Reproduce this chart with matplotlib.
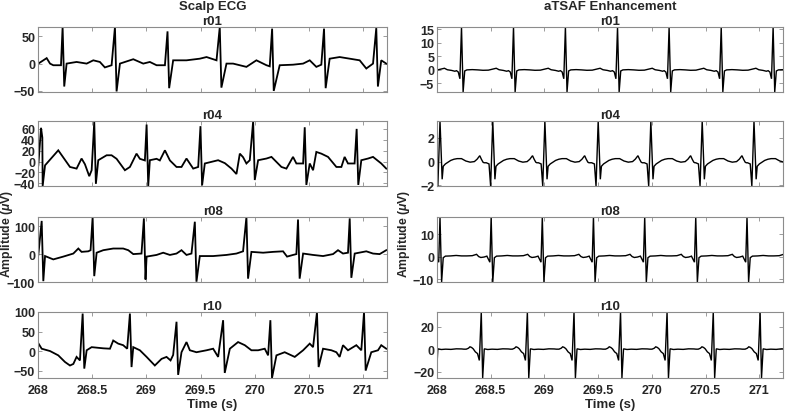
import numpy as np
import matplotlib
matplotlib.use("Agg")
import matplotlib.pyplot as plt

# ---------------- DATA ----------------
xticks = [268, 268.5, 269, 269.5, 270, 270.5, 271]
xtick_labels = ["268", "268.5", "269", "269.5", "270", "270.5", "271"]
col_titles = ["Scalp ECG", "aTSAF Enhancement"]
rec_names = ["r01", "r04", "r08", "r10"]

# ---- Scalp ECG: R-peak times / amplitudes, S amplitudes, baseline knots ----
scalp_r01_beat_t = [268.227, 268.710, 269.195, 269.677, 270.160, 270.639, 271.121]
scalp_r01_R = [67, 67, 59, 67, 64, 64, 65]
scalp_r01_S = [-42, -51, -45, -44, -50, -45, -42]
scalp_r01_knot_t = [268.003, 268.080, 268.111, 268.141, 268.212, 268.264, 268.356, 268.449,
                    268.510, 268.571, 268.617, 268.679, 268.756, 268.879, 268.971, 269.032,
                    269.094, 269.171, 269.247, 269.370, 269.493, 269.555, 269.647, 269.739,
                    269.800, 269.923, 270.015, 270.108, 270.138, 270.230, 270.353, 270.446,
                    270.507, 270.568, 270.614, 270.691, 270.783, 270.876, 270.968, 271.029,
                    271.091, 271.167, 271.213]
scalp_r01_knot_v = [0, 10, 0, -3, -3, 0, 3, 0,
                    6, 3, -7, -3, 0, 8, 0, 3,
                    -3, -3, 6, 6, 9, 12, 6, 0,
                    0, -6, 6, -3, -5, -3, -2, 0,
                    6, -6, -2, 9, 12, 9, 6, -9,
                    0, 6, 0]

scalp_r04_beat_t = [268.028, 268.519, 269.002, 269.499, 269.985, 270.461, 270.940]
scalp_r04_R = [62, 73, 68, 65, 74, 63, 60]
scalp_r04_S = [-45, -41, -45, -44, -34, -43, -43]
scalp_r04_knot_t = [268.003, 268.040, 268.065, 268.187, 268.295, 268.356, 268.402, 268.433,
                    268.473, 268.495, 268.556, 268.633, 268.679, 268.725, 268.802, 268.848,
                    268.909, 268.940, 268.986, 269.032, 269.094, 269.124, 269.171, 269.217,
                    269.278, 269.324, 269.370, 269.432, 269.478, 269.539, 269.662, 269.724,
                    269.785, 269.831, 269.862, 269.892, 269.923, 269.954, 270.031, 270.108,
                    270.154, 270.246, 270.292, 270.353, 270.384, 270.446, 270.507, 270.538,
                    270.568, 270.614, 270.676, 270.753, 270.799, 270.829, 270.860, 270.921,
                    270.983, 271.045, 271.091, 271.167, 271.213]
scalp_r04_knot_v = [-7, 44, -7, 20.6, -10, -13, 5.5, -5,
                    -27, -16, 2.4, 11.5, 11.5, 5, -16, -10,
                    14.5, 5, 2, 2.4, 5, 2, 20.6, 2,
                    -10, -10, 5.5, -13, -10, -3.6, 2.4, -3,
                    -13, -23, 14.5, 8, -3.6, 2.4, 2.4, 5.5,
                    8.5, -10, -13, 8.5, -3.6, -3.6, -3.6, -16,
                    17.6, 14.5, 8.5, -10, -10, 8.5, -3.6, -3.6,
                    2.4, 5.5, 8.5, -3.6, -13]

scalp_r08_beat_t = [268.034, 268.504, 268.977, 269.447, 269.923, 270.399, 270.876]
scalp_r08_R = [119, 133, 128, 116, 133, 124, 128]
scalp_r08_S = [-97, -79, -91, -99, -88, -88, -85]
scalp_r08_knot_t = [268.003, 268.065, 268.141, 268.233, 268.326, 268.372, 268.402, 268.464,
                    268.485, 268.541, 268.602, 268.694, 268.786, 268.833, 268.879, 268.955,
                    269.002, 269.094, 269.155, 269.217, 269.278, 269.324, 269.370, 269.416,
                    269.493, 269.616, 269.739, 269.831, 269.892, 269.969, 270.077, 270.169,
                    270.261, 270.298, 270.353, 270.384, 270.446, 270.538, 270.630, 270.722,
                    270.768, 270.814, 270.860, 270.922, 271.029, 271.091, 271.152, 271.213]
scalp_r08_knot_v = [-3, -7, -19, -9, 2, 20, 8, 10,
                    14, 5, 14, 20, 20, 14, 0, 2,
                    -9, -3, 5, -3, 2, 14, -3, 2,
                    -7, -7, -3, 2, 10, 8, 5, 8,
                    10, -9, -3, 0, 2, -3, -7, 0,
                    14, 2, 5, 2, 10, 2, 0, 14]

scalp_r10_beat_t = [268.412, 268.848, 269.278, 269.708, 270.144, 270.574, 271.008]
scalp_r10_R = [96, 96, 75, 79, 79, 100, 100]
scalp_r10_S = [-45, -41, -61, -56, -69, -41, -50]
scalp_r10_knot_t = [268.003, 268.034, 268.111, 268.187, 268.249, 268.295, 268.326, 268.356,
                    268.387, 268.449, 268.495, 268.602, 268.664, 268.694, 268.740, 268.786,
                    268.823, 268.879, 268.940, 269.002, 269.078, 269.140, 269.186, 269.223,
                    269.247, 269.324, 269.370, 269.401, 269.462, 269.555, 269.616, 269.662,
                    269.770, 269.846, 269.908, 269.969, 270.031, 270.092, 270.123, 270.200,
                    270.276, 270.369, 270.446, 270.507, 270.538, 270.630, 270.707, 270.753,
                    270.783, 270.814, 270.860, 270.937, 270.983, 271.075, 271.137, 271.167,
                    271.213]
scalp_r10_knot_v = [20, 6, 0, -11, -28, -37, -33, -15,
                    -24, 2, 10, 7, 6, 27, 19, 15,
                    6, 10, 2, -15, -37, -20, -15, -24,
                    -10, -3, 23, 2, -3, 2, 6, -15,
                    6, 23, 15, 2, 2, 6, -11, -11,
                    -3, -15, 2, 19, 10, 6, 2, -3,
                    -15, 15, 2, 15, 2, -3, 2, 15,
                    6]

# ---- aTSAF enhancement: beat times + one averaged beat template per record ----
enh_r01_beat_t = [267.746, 268.228, 268.712, 269.195, 269.680, 270.160, 270.645, 271.128]
enh_r01_tmpl_t = [-0.046, -0.030, -0.015, 0.0, 0.015, 0.030, 0.050, 0.100, 0.150, 0.200,
                  0.250, 0.300, 0.323, 0.350, 0.390, 0.420]
enh_r01_tmpl_v = [-0.3, -0.8, -3.3, 15.9, -8.2, -0.4, 0.0, 0.1, 0.0, -0.15,
                  -0.1, 0.4, 0.6, 0.05, -0.2, -0.5]

enh_r04_beat_t = [268.028, 268.519, 269.004, 269.500, 269.990, 270.468, 270.950]
enh_r04_tmpl_t = [-0.060, -0.035, -0.020, 0.0, 0.020, 0.030, 0.050, 0.100, 0.130, 0.160,
                  0.200, 0.240, 0.280, 0.320, 0.345, 0.370, 0.385, 0.400, 0.410]
enh_r04_tmpl_v = [-0.1, -0.2, -2.07, 3.44, -1.5, -0.4, -0.2, 0.1, 0.2, 0.25,
                  0.25, 0.05, -0.05, 0.0, 0.2, 0.5, 0.2, -0.05, -0.1]

enh_r08_beat_t = [268.028, 268.504, 268.980, 269.456, 269.933, 270.408, 270.885]
enh_r08_tmpl_t = [-0.040, -0.012, 0.0, 0.015, 0.030, 0.050, 0.100, 0.150, 0.200, 0.250,
                  0.300, 0.340, 0.360, 0.380, 0.410, 0.430]
enh_r08_tmpl_v = [0.2, -2.5, 17.6, -11.3, -0.5, 0.2, 0.3, 0.5, 0.3, 0.3,
                  0.4, 1.0, 0.0, -0.4, -0.2, 0.1]

enh_r10_beat_t = [267.980, 268.412, 268.841, 269.275, 269.708, 270.141, 270.571, 271.007]
enh_r10_tmpl_t = [-0.140, -0.120, -0.105, -0.090, -0.075, -0.055, -0.035, -0.018, 0.0, 0.013,
                  0.028, 0.060, 0.100, 0.150, 0.200, 0.250, 0.270]
enh_r10_tmpl_v = [0.0, 0.8, 2.1, 1.5, 0.3, -2.4, -3.9, -10.0, 33.0, -25.6,
                  0.3, -0.3, 0.0, -0.2, 0.3, 0.2, 0.0]

# axis limits / ticks
scalp_ylims = [(-52, 67), (-45, 74.5), (-100, 133), (-69, 100)]
scalp_yticks = [[-50, 0, 50], [-40, -20, 0, 20, 40, 60], [-100, 0, 100], [-50, 0, 50, 100]]
enh_ylims = [(-8.2, 15.9), (-2.07, 3.44), (-11.3, 17.6), (-25.6, 33.0)]
enh_yticks = [[-5, 0, 5, 10, 15], [-2, 0, 2], [-10, 0, 10], [-20, 0, 20]]
x_range = (268.0, 271.22)

# ---------------- build traces ----------------
S_LAG = 0.015


def scalp_trace(beat_t, R, S, knot_t, knot_v):
    t = list(knot_t) + list(beat_t) + [b + S_LAG for b in beat_t]
    v = list(knot_v) + list(R) + list(S)
    order = np.argsort(t)
    return np.asarray(t)[order], np.asarray(v)[order]


def enh_trace(beat_t, tmpl_t, tmpl_v):
    t = np.concatenate([b + np.asarray(tmpl_t) for b in beat_t])
    v = np.concatenate([np.asarray(tmpl_v) for _ in beat_t])
    order = np.argsort(t)
    return t[order], v[order]


scalp = [
    scalp_trace(scalp_r01_beat_t, scalp_r01_R, scalp_r01_S, scalp_r01_knot_t, scalp_r01_knot_v),
    scalp_trace(scalp_r04_beat_t, scalp_r04_R, scalp_r04_S, scalp_r04_knot_t, scalp_r04_knot_v),
    scalp_trace(scalp_r08_beat_t, scalp_r08_R, scalp_r08_S, scalp_r08_knot_t, scalp_r08_knot_v),
    scalp_trace(scalp_r10_beat_t, scalp_r10_R, scalp_r10_S, scalp_r10_knot_t, scalp_r10_knot_v),
]
enh = [
    enh_trace(enh_r01_beat_t, enh_r01_tmpl_t, enh_r01_tmpl_v),
    enh_trace(enh_r04_beat_t, enh_r04_tmpl_t, enh_r04_tmpl_v),
    enh_trace(enh_r08_beat_t, enh_r08_tmpl_t, enh_r08_tmpl_v),
    enh_trace(enh_r10_beat_t, enh_r10_tmpl_t, enh_r10_tmpl_v),
]

# ---------------- figure ----------------
plt.rcParams["font.family"] = ["Liberation Sans", "DejaVu Sans"]
plt.rcParams["font.weight"] = "bold"
plt.rcParams["axes.titleweight"] = "bold"
plt.rcParams["axes.labelweight"] = "bold"
plt.rcParams["mathtext.fontset"] = "custom"
plt.rcParams["mathtext.it"] = "Liberation Sans:italic:bold"
plt.rcParams["mathtext.rm"] = "Liberation Sans:bold"

W, H = 787, 414
fig = plt.figure(figsize=(W / 100, H / 100), dpi=100)

rows_px = [(28, 93), (122, 187), (218, 283), (313, 379)]
cols_px = [(38, 387), (437, 783)]
ylabel_right_px = [15, 412]
frame_col = "#8c8c8c"
text_col = "#262626"

for c, (x0, x1) in enumerate(cols_px):
    for r, (y0, y1) in enumerate(rows_px):
        ax = fig.add_axes([x0 / W, 1 - y1 / H, (x1 - x0) / W, (y1 - y0) / H])
        if c == 0:
            t, v = scalp[r]
            ylim, yt = scalp_ylims[r], scalp_yticks[r]
            lw = 1.3
        else:
            t, v = enh[r]
            ylim, yt = enh_ylims[r], enh_yticks[r]
            lw = 1.0
        ax.plot(t, v, color="black", lw=lw, solid_joinstyle="miter")
        ax.set_xlim(*x_range)
        ax.set_ylim(*ylim)
        ax.set_yticks(yt)
        ax.set_xticks(xticks)
        if r == 3:
            ax.set_xticklabels(xtick_labels)
            ax.set_xlabel("Time (s)", fontsize=9.5, color=text_col, labelpad=2)
        else:
            ax.set_xticklabels([])
        ax.tick_params(direction="in", top=True, right=True, length=3, width=0.6,
                       color=frame_col, labelsize=9, labelcolor=text_col, pad=2)
        ax.tick_params(axis="x", pad=4)
        for sp in ax.spines.values():
            sp.set_color(frame_col)
            sp.set_linewidth(0.8)
        title = rec_names[r]
        if r == 0:
            title = col_titles[c] + "\n" + rec_names[r]
        ax.set_title(title, fontsize=9.5, color=text_col, pad=2, linespacing=1.3)
        if r == 2:
            ax.set_ylabel(r"Amplitude ($\mu$V)", fontsize=8.8, color=text_col)
            ax.yaxis.set_label_coords((ylabel_right_px[c] - x0) / (x1 - x0), 0.76)

fig.savefig("out.png", dpi=100)
